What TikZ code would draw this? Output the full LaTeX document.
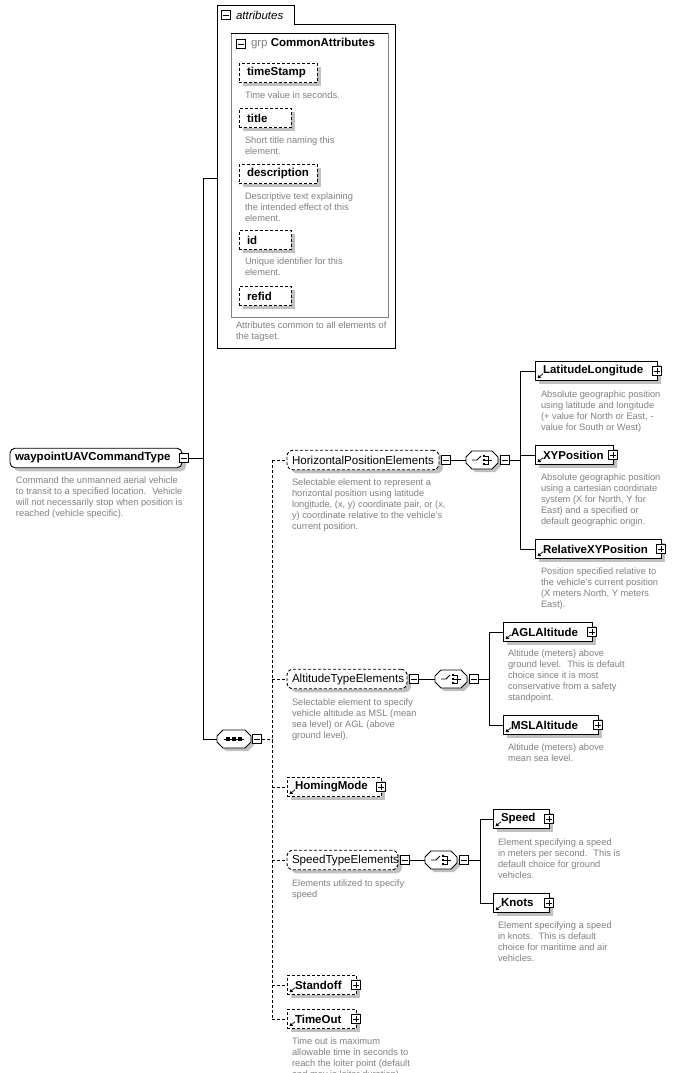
\documentclass[tikz,border=0pt]{standalone}
\usepackage{fontspec}
\setmainfont{Liberation Sans}
\usetikzlibrary{calc,arrows.meta,shadows}
\definecolor{desc}{RGB}{128,128,128}
\definecolor{shd}{RGB}{192,192,192}
\definecolor{gline}{RGB}{128,128,128}
\newcommand\elt[2]{\makebox[#1pt][l]{\hspace*{8pt}#2}}
\newcommand\grt[2]{\makebox[#1pt][l]{\hspace*{5pt}#2}}
\newcommand\octo[1]{%
  \fill[shd] ($(#1.north west)+(9,3)$) -- ($(#1.north east)+(-3,3)$) -- ($(#1.north east)+(3,9)$) -- ($(#1.south east)+(3,-3)$) -- ($(#1.south east)+(-3,3)$) -- ($(#1.south west)+(9,3)$) -- ($(#1.south west)+(3,-3)$) -- ($(#1.north west)+(3,9)$) -- cycle;
  \draw[fill=white] ($(#1.north west)+(6,0)$) -- ($(#1.north east)+(-6,0)$) -- ($(#1.north east)+(0,6)$) -- ($(#1.south east)+(0,-6)$) -- ($(#1.south east)+(-6,0)$) -- ($(#1.south west)+(6,0)$) -- ($(#1.south west)+(0,-6)$) -- ($(#1.north west)+(0,6)$) -- cycle;}
\newcommand\seqicon[1]{%
  \draw ($(#1)+(-10,0)$) -- ($(#1)+(10,0)$);
  \foreach \dx in {-6,0,6} {\fill ($(#1)+(\dx-1.6,-1.6)$) rectangle ($(#1)+(\dx+1.6,1.6)$);}}
\newcommand\choiceicon[1]{%
  \draw ($(#1)+(-10,0)$) -- ($(#1)+(-5,0)$) -- ($(#1)+(-1,-4)$);
  \foreach \dy in {-4,0,4} {\fill ($(#1)+(0.6,\dy-1.3)$) rectangle ($(#1)+(3,\dy+1.3)$);}
  \draw ($(#1)+(3,-4)$) -- ($(#1)+(6,-4)$) -- ($(#1)+(6,4)$) -- ($(#1)+(3,4)$) ($(#1)+(3,0)$) -- ($(#1)+(10,0)$);}
\newcommand\refarrow[1]{\draw[line width=0.7pt,-{Triangle[length=3pt,width=3.5pt]}] ($(#1.south west)+(8,-7)$) -- ($(#1.south west)+(2.5,-2.5)$);}
\begin{document}
\begin{tikzpicture}[x=1pt,y=-1pt,line width=0.9pt,
  every node/.style={inner sep=0pt,outer sep=0pt},
  elbox/.style={draw,fill=white,minimum height=19.5pt,anchor=west,
    font=\fontsize{11.5}{13}\selectfont\bfseries,
    drop shadow={shadow xshift=4pt,shadow yshift=-3.5pt,fill=shd,opacity=1}},
  grpbox/.style={elbox,rounded corners=6pt,font=\fontsize{11.6}{13}\selectfont},
  opt/.style={dash pattern=on 3pt off 2pt},
  desc/.style={anchor=north west,align=left,text=desc,font=\fontsize{9.3}{11}\selectfont},
  pmbox/.style={draw,fill=white,minimum size=9.5pt,line width=0.8pt},
  minusbox/.style={pmbox,path picture={\draw[line width=0.8pt] ([xshift=2pt]path picture bounding box.west) -- ([xshift=-2pt]path picture bounding box.east);}},
  plusbox/.style={pmbox,path picture={\draw[line width=0.8pt] ([xshift=2pt]path picture bounding box.west) -- ([xshift=-2pt]path picture bounding box.east) ([yshift=-2pt]path picture bounding box.north) -- ([yshift=2pt]path picture bounding box.south);}},
  symnode/.style={minimum width=32pt,minimum height=18pt},
]
\useasboundingbox (0,0) rectangle (684,1073);
\clip (0,0) rectangle (684,1073);

% ---------- attributes container ----------
\draw (217,5) -- (294,5) -- (294,24) -- (395,24) -- (395,348) -- (217,348) -- cycle;
\node[minusbox] (attpm) at (226,15) {};
\node[anchor=west,font=\fontsize{11.5}{13}\selectfont\itshape] (atttxt) at (236,15) {attributes};
\draw[gline] (231,33) rectangle (388,317);
\draw (231,33) -- (388,33);
\node[minusbox] (grppm) at (241,44) {};
\node[anchor=west,font=\fontsize{11.5}{13}\selectfont] (grptxt) at (251,44) {{\color{desc}grp} \textbf{CommonAttributes}};

\node[elbox,opt] (ts) at (239,73) {\elt{78}{timeStamp}};
\node[desc] (tsd) at (245,91.5) {Time value in seconds.};
\node[elbox,opt] (ti) at (239,118) {\elt{52}{title}};
\node[desc] (tid) at (245,136.5) {Short title naming this\\element.};
\node[elbox,opt] (de) at (239,174) {\elt{78}{description}};
\node[desc] (ded) at (245,192.5) {Descriptive text explaining\\the intended effect of this\\element.};
\node[elbox,opt] (id) at (239,240) {\elt{52}{id}};
\node[desc] (idd) at (245,258) {Unique identifier for this\\element.};
\node[elbox,opt] (rf) at (239,296) {\elt{52}{refid}};
\node[desc] (attd) at (236,322) {Attributes common to all elements of\\the tagset.};

% ---------- main type ----------
\node[elbox,rounded corners=5pt] (main) at (10,458) {\grt{172}{waypointUAVCommandType}};
\node[minusbox] (mainpm) at (184,458) {};
\node[desc] (maind) at (16,476.5) {Command the unmanned aerial vehicle\\to transit to a specified location.~ Vehicle\\will not necessarily stop when position is\\reached (vehicle specific).};

\coordinate (s1a) at (203,178);
\coordinate (s1b) at (203,739);
\coordinate (attW) at (217,178);
\draw (mainpm.east) -- (mainpm.east -| s1a);
\draw (attW) -- (s1a) -- (s1b);

% ---------- sequence ----------
\node[symnode,minimum width=34pt] (seq) at (234,739) {};
\octo{seq}
\seqicon{seq}
\draw (s1b) -- (seq.west);
\node[minusbox] (seqpm) at (257,739) {};
\coordinate (s2a) at (272,460);
\coordinate (s2b) at (272,1019);
\draw[opt] (seqpm.east) -- (seqpm.east -| s2a);
\draw[opt] (s2a) -- (s2b);

% ---------- HorizontalPositionElements ----------
\node[grpbox,opt] (hpe) at (287,460) {\grt{152}{HorizontalPositionElements}};
\draw[opt] (s2a) -- (hpe.west);
\node[minusbox] (hpepm) at ($(hpe.east)+(7,0)$) {};
\node[desc] (hped) at (292,479) {Selectable element to represent a\\horizontal position using latitude\\longitude, (x, y) coordinate pair, or (x,\\y) coordinate relative to the vehicle's\\current position.};
\node[symnode] (c1) at (482,460) {};
\octo{c1}
\choiceicon{c1}
\draw (hpepm.east) -- (c1.west);
\node[minusbox] (c1pm) at (505,460) {};
\coordinate (s3a) at (520,371);
\coordinate (s3b) at (520,549);
\draw (c1pm.east) -- (c1pm.east -| s3a);
\draw (s3a) -- (s3b);

\node[elbox] (ll) at (535,371) {\elt{122}{LatitudeLongitude}};
\node[plusbox] (llpm) at (ll.east) {};
\refarrow{ll}
\draw (s3a) -- (ll.west);
\node[desc] (lld) at (541,390.5) {Absolute geographic position\\using latitude and longitude\\(+ value for North or East, -\\value for South or West)};

\node[elbox] (xy) at (535,455) {\elt{78}{XYPosition}};
\node[plusbox] (xypm) at (xy.east) {};
\refarrow{xy}
\draw (s3a |- xy.west) -- (xy.west);
\node[desc] (xyd) at (541,473.5) {Absolute geographic position\\using a cartesian coordinate\\system (X for North, Y for\\East) and a specified or\\default geographic origin.};

\node[elbox] (rxy) at (535,549) {\elt{126}{RelativeXYPosition}};
\node[plusbox] (rxypm) at (rxy.east) {};
\refarrow{rxy}
\draw (s3b) -- (rxy.west);
\node[desc] (rxyd) at (541,567.5) {Position specified relative to\\the vehicle's current position\\(X meters North, Y meters\\East).};

% ---------- AltitudeTypeElements ----------
\node[grpbox,opt] (alt) at (287,679) {\grt{120}{AltitudeTypeElements}};
\draw[opt] (s2a |- alt.west) -- (alt.west);
\node[minusbox] (altpm) at ($(alt.east)+(7,0)$) {};
\node[desc] (altd) at (292,699) {Selectable element to specify\\vehicle altitude as MSL (mean\\sea level) or AGL (above\\ground level).};
\node[symnode] (c2) at (451,679) {};
\octo{c2}
\choiceicon{c2}
\draw (altpm.east) -- (c2.west);
\node[minusbox] (c2pm) at (474,679) {};
\coordinate (s4a) at (489,632);
\coordinate (s4b) at (489,725);
\draw (c2pm.east) -- (c2pm.east -| s4a);
\draw (s4a) -- (s4b);

\node[elbox] (agl) at (503,632) {\elt{89}{AGLAltitude}};
\node[plusbox] (aglpm) at (agl.east) {};
\refarrow{agl}
\draw (s4a) -- (agl.west);
\node[desc] (agld) at (508,649.5) {Altitude (meters) above\\ground level.~ This is default\\choice since it is most\\conservative from a safety\\standpoint.};

\node[elbox] (msl) at (503,725) {\elt{95}{MSLAltitude}};
\node[plusbox] (mslpm) at (msl.east) {};
\refarrow{msl}
\draw (s4b) -- (msl.west);
\node[desc] (msld) at (508,743.5) {Altitude (meters) above\\mean sea level.};

% ---------- HomingMode ----------
\node[elbox,opt] (hm) at (287,787) {\elt{94}{HomingMode}};
\node[plusbox] (hmpm) at (hm.east) {};
\refarrow{hm}
\draw[opt] (s2a |- hm.west) -- (hm.west);

% ---------- SpeedTypeElements ----------
\node[grpbox,opt] (spg) at (287,860) {\grt{111}{SpeedTypeElements}};
\draw[opt] (s2a |- spg.west) -- (spg.west);
\node[minusbox] (spgpm) at ($(spg.east)+(7,0)$) {};
\node[desc] (spgd) at (292,879.5) {Elements utilized to specify\\speed};
\node[symnode] (c3) at (441,860) {};
\octo{c3}
\choiceicon{c3}
\draw (spgpm.east) -- (c3.west);
\node[minusbox] (c3pm) at (464,860) {};
\coordinate (s5a) at (480,819);
\coordinate (s5b) at (480,903);
\draw (c3pm.east) -- (c3pm.east -| s5a);
\draw (s5a) -- (s5b);

\node[elbox] (spd) at (493,819) {\elt{56}{Speed}};
\node[plusbox] (spdpm) at (spd.east) {};
\refarrow{spd}
\draw (s5a) -- (spd.west);
\node[desc] (spdd) at (498,838.5) {Element specifying a speed\\in meters per second.~ This is\\default choice for ground\\vehicles.};

\node[elbox] (kn) at (493,903) {\elt{56}{Knots}};
\node[plusbox] (knpm) at (kn.east) {};
\refarrow{kn}
\draw (s5b) -- (kn.west);
\node[desc] (knd) at (498,921.5) {Element specifying a speed\\in knots.~ This is default\\choice for maritime and air\\vehicles.};

% ---------- Standoff, TimeOut ----------
\node[elbox,opt] (so) at (287,985) {\elt{69}{Standoff}};
\node[plusbox] (sopm) at (so.east) {};
\refarrow{so}
\draw[opt] (s2a |- so.west) -- (so.west);

\node[elbox,opt] (to) at (287,1019) {\elt{69}{TimeOut}};
\node[plusbox] (topm) at (to.east) {};
\refarrow{to}
\draw[opt] (s2b) -- (to.west);
\node[desc] (tod) at (292,1038) {Time out is maximum\\allowable time in seconds to\\reach the loiter point (default\\and may is loiter duration)};
\end{tikzpicture}
\end{document}
